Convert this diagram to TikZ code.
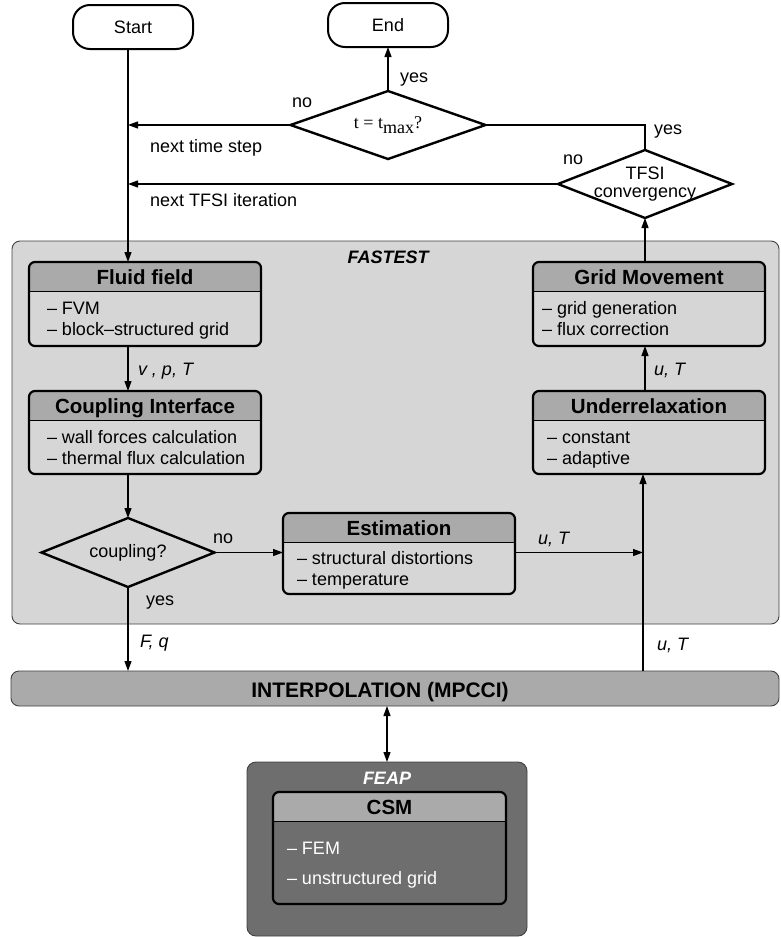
\documentclass[tikz,border=0pt]{standalone}
\usepackage{fontspec}
\setmainfont{Liberation Sans}
\newfontfamily\serifface{Liberation Serif}
\usetikzlibrary{shapes.geometric,arrows.meta,fit}

\definecolor{panelgray}{RGB}{214,214,214}
\definecolor{headgray}{RGB}{170,170,170}
\definecolor{feapgray}{RGB}{110,110,110}

\tikzset{
  every node/.style={inner sep=0pt, outer sep=0pt},
  txt/.style={font=\fontsize{18}{21}\selectfont},
  itxt/.style={font=\fontsize{18}{21}\selectfont\itshape},
  titletxt/.style={font=\fontsize{20.5}{24}\selectfont\bfseries},
  conn/.style={line width=1.2pt, -{Triangle[length=10pt,width=7pt]}},
  biconn/.style={line width=1.2pt, {Triangle[length=10pt,width=7pt]}-{Triangle[length=10pt,width=7pt]}},
  terminal/.style={draw, line width=2pt, rounded corners=17pt, minimum width=120pt,
                   minimum height=44pt, fill=white, txt},
  decision/.style={diamond, draw, line width=2.4pt, inner sep=0pt},
  boxframe/.style={draw, line width=2.2pt, rounded corners=6pt, inner sep=0pt},
  bodyfill/.style={fill=panelgray},
  bodytext/.style={txt},
}

% process box: name, left, top, right, bottom, title, text x, line 1, line 2
\newcommand{\linegap}{21}
\newcommand{\procbox}[9]{%
  \begin{scope}
    \clip[rounded corners=6pt] (#2,#3) rectangle (#4,#5);
    \path[bodyfill] (#2,#3) rectangle (#4,#5);
    \fill[headgray] (#2,#3) rectangle (#4,{#3+29});
  \end{scope}
  \draw[line width=0.8pt] (#2,{#3+29}) -- (#4,{#3+29});
  \node[fit={(#2,#3) (#4,#5)}, boxframe] (#1) {};
  \node[titletxt, anchor=base] (#1-title) at ({(#2+#4)/2},{#3+22}) {#6};
  \node[bodytext, anchor=base west] (#1-a) at (#7,{(#3+29+#5)/2-\linegap/2+6.5}) {#8};
  \node[bodytext, anchor=base west] (#1-b) at (#7,{(#3+29+#5)/2+\linegap/2+6.5}) {#9};
}

\begin{document}
\begin{tikzpicture}[x=1pt, y=-1pt]
\useasboundingbox (0,0) rectangle (780,937);

% spines of the loop
\coordinate (lsp) at (128,0);
\coordinate (rsp) at (643,0);

% FASTEST region
\node[fit={(12,241) (779,624)}, inner sep=0pt, rounded corners=8pt, fill=panelgray,
      draw=black!75, line width=0.9pt] (fastest) {};
\node[font=\fontsize{18}{21}\selectfont\bfseries\itshape, anchor=base] (fastest-label)
      at (388,263) {FASTEST};

% time loop controls
\node[terminal] (start) at (133,27) {Start};
\node[terminal] (end) at (388,25) {End};
\node[decision, fill=white, minimum width=195pt, minimum height=68pt] (tmax) at (388,125) {};
\node[txt, anchor=base] (tmax-text) at (388,128) {\serifface t = t\raisebox{-5pt}{max}?};
\node[decision, fill=white, minimum width=174pt, minimum height=68pt] (tfsi) at (645,184) {};
\node[txt, anchor=base] (tfsi-a) at (645,179) {TFSI};
\node[txt, anchor=base] (tfsi-b) at (645,197) {convergency};

% fluid side
\procbox{fluid}{29}{262}{261}{346}{Fluid field}{47}{– FVM}{– block–structured grid}
\procbox{cif}{29}{391}{261}{474}{Coupling Interface}{47}{– wall forces calculation}{– thermal flux calculation}
\procbox{est}{283}{513}{515}{594}{Estimation}{297}{– structural distortions}{– temperature}
\procbox{grid}{533}{262}{765}{346}{Grid Movement}{542}{– grid generation}{– flux correction}
\procbox{under}{533}{391}{765}{474}{Underrelaxation}{547}{– constant}{– adaptive}

\node[decision, minimum width=173pt, minimum height=69pt] (coupling) at (128,552.5) {};
\node[txt, anchor=base] (coupling-text) at (128,557) {coupling?};

% interpolation bar
\node[fit={(11,671) (779,706)}, inner sep=0pt, rounded corners=8pt, fill=headgray,
      draw=black!75, line width=0.9pt] (interp) {};
\node[font=\fontsize{21}{24}\selectfont\bfseries, anchor=base] (interp-label)
      at (380,697.5) {INTERPOLATION (MPCCI)};

% structural solver
\node[fit={(247,762) (527,936)}, inner sep=0pt, rounded corners=9pt, fill=feapgray,
      draw=black!75, line width=0.9pt] (feap) {};
\node[font=\fontsize{18}{21}\selectfont\bfseries\itshape, text=white, anchor=base]
      (feap-label) at (387,784.5) {FEAP};
\begin{scope}[bodyfill/.style={fill=feapgray}, bodytext/.style={txt, text=white}]
  \renewcommand{\linegap}{30}
  \procbox{csm}{273}{792}{506}{904}{CSM}{287}{– FEM}{– unstructured grid}
\end{scope}

% connectors
\draw[conn] (start.south -| lsp) -- (fluid.north -| lsp);
\draw[conn] (tmax.north) -- (end.south);
\draw[line width=1.2pt] (tmax.east) -| (tfsi.north);
\draw[conn] (tmax.west) -- (tmax.west -| lsp);
\draw[conn] (tfsi.west) -- (tfsi.west -| lsp);
\draw[conn] (grid.north -| tfsi.south) -- (tfsi.south);
\draw[conn] (fluid.south -| lsp) -- (cif.north -| lsp);
\draw[conn] (cif.south -| lsp) -- (coupling.north);
\draw[conn] (coupling.east) -- (est.west |- coupling.east);
\draw[conn] (est.east |- coupling.east) -- (rsp |- coupling.east);
\draw[conn] (coupling.south) -- (interp.north -| lsp);
\draw[conn] (interp.north -| rsp) -- (under.south -| rsp);
\draw[conn] (under.north -| tfsi.south) -- (grid.south -| tfsi.south);
\draw[biconn] (interp.south -| feap.north) -- (feap.north);

% connector labels
\node[txt, anchor=base west] (l-no1) at (292,107.5) {no};
\node[txt, anchor=base west] (l-yes1) at (400,82) {yes};
\node[txt, anchor=base west] (l-step) at (150,152) {next time step};
\node[txt, anchor=base west] (l-yes2) at (654,134) {yes};
\node[txt, anchor=base west] (l-no2) at (563,164) {no};
\node[txt, anchor=base west] (l-iter) at (150,206) {next TFSI iteration};
\node[itxt, anchor=base west] (l-vpt) at (138,375) {v , p, T};
\node[itxt, anchor=base west] (l-ut1) at (654,375) {u, T};
\node[txt, anchor=base west] (l-no3) at (213,543) {no};
\node[itxt, anchor=base west] (l-ut2) at (538,544) {u, T};
\node[txt, anchor=base west] (l-yes3) at (146,605) {yes};
\node[itxt, anchor=base west] (l-fq) at (140,647) {F, q};
\node[itxt, anchor=base west] (l-ut3) at (657,650) {u, T};
\end{tikzpicture}
\end{document}
